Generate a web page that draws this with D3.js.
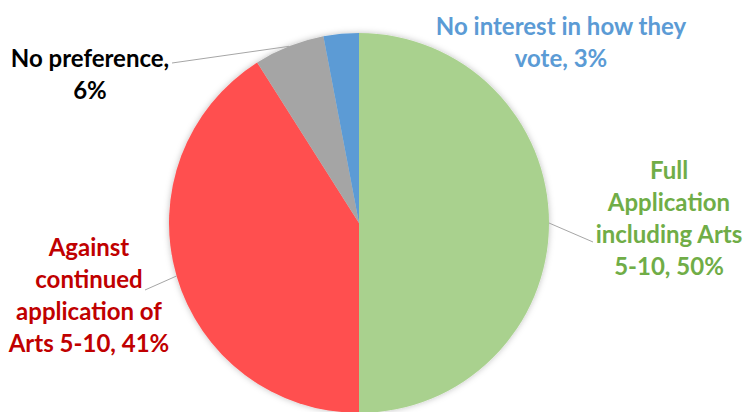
<!DOCTYPE html>
<html>
<head>
<meta charset="utf-8">
<script src="https://cdn.jsdelivr.net/npm/d3@7"></script>
<style>
html,body{margin:0;padding:0;background:#fff;}
svg{display:block;}
</style>
</head>
<body>
<svg id="chart" width="745" height="412"></svg>
<script>
// ---- data ----
const categories = ["Full Application including Arts 5-10", "Against continued application of Arts 5-10", "No preference", "No interest in how they vote"];
const values = [50, 41, 6, 3];
const labelLines = [
  ["Full", "Application", "including Arts", "5-10, 50%"],
  ["Against", "continued", "application of", "Arts 5-10, 41%"],
  ["No preference,", "6%"],
  ["No interest in how they", "vote, 3%"]
];

// ---- styles / layout ----
const sliceColors = ["#A9D18E", "#FF5050", "#A5A5A5", "#5B9BD5"];
const textColors = ["#70AD47", "#C00000", "#000000", "#5B9BD5"];
// label block centre x and first baseline y
const labelLayout = [
  {x: 669, y: 179},
  {x: 89, y: 256},
  {x: 90, y: 67},
  {x: 561, y: 35}
];
// leader line end points (null = no leader)
const leaderEnds = [
  {x: 593, y: 242},
  {x: 145, y: 290},
  {x: 172, y: 63},
  null
];
const lineHeight = 32;

const svg = d3.select("#chart");
const cx = 359, cy = 223, r = 190;

const defs = svg.append("defs");
const f = defs.append("filter").attr("id", "shadow").attr("x", "-10%").attr("y", "-10%").attr("width", "120%").attr("height", "120%");
f.append("feDropShadow").attr("dx", 0).attr("dy", 0).attr("stdDeviation", 3).attr("flood-color", "#000").attr("flood-opacity", 0.25);

const pie = d3.pie().sort(null).value(d => d)(values);
const arc = d3.arc().innerRadius(0).outerRadius(r);

const g = svg.append("g").attr("transform", `translate(${cx},${cy})`);
g.append("g").attr("filter", "url(#shadow)")
  .selectAll("path").data(pie).join("path")
  .attr("d", arc)
  .attr("fill", (d, i) => sliceColors[i]);

// leader lines
pie.forEach((d, i) => {
  const e = leaderEnds[i];
  if (!e) return;
  const a = (d.startAngle + d.endAngle) / 2;
  const px = cx + r * Math.sin(a), py = cy - r * Math.cos(a);
  svg.append("line")
    .attr("x1", px).attr("y1", py).attr("x2", e.x).attr("y2", e.y)
    .attr("stroke", "#A6A6A6").attr("stroke-width", 1);
});

// labels
labelLines.forEach((lines, i) => {
  const t = svg.append("text")
    .attr("text-anchor", "middle")
    .attr("font-family", "Lato, 'Open Sans', sans-serif")
    .attr("font-weight", 700)
    .attr("font-size", 24)
    .attr("fill", textColors[i]);
  lines.forEach((ln, j) => {
    t.append("tspan").attr("x", labelLayout[i].x).attr("y", labelLayout[i].y + j * lineHeight).text(ln);
  });
});
</script>
</body>
</html>
